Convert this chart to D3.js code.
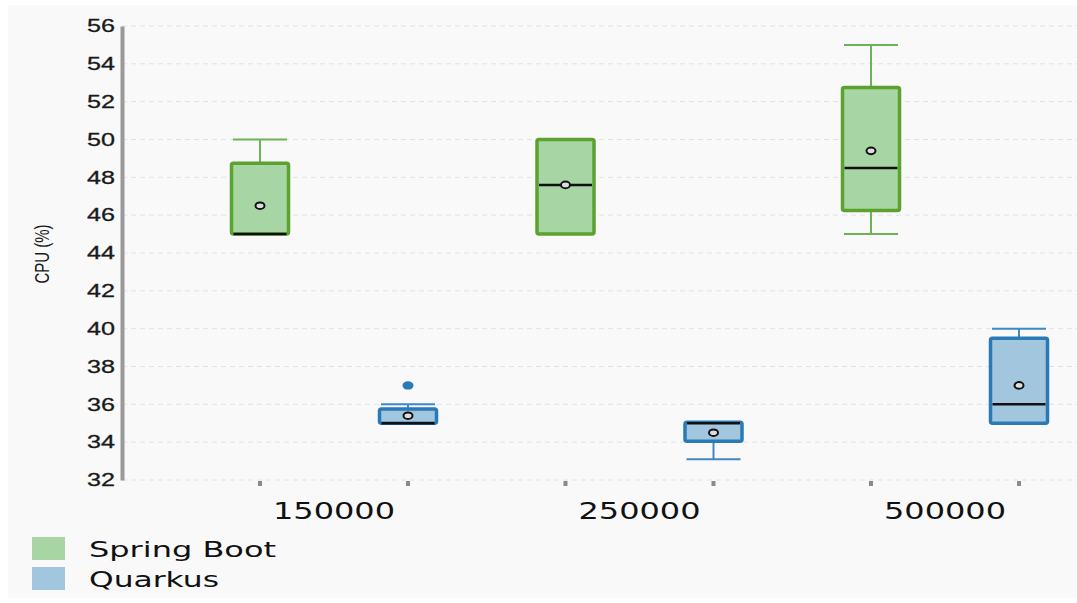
<!DOCTYPE html>
<html>
<head>
<meta charset="utf-8">
<script src="https://cdn.jsdelivr.net/npm/d3@7"></script>
<style>
  body { margin: 0; background: #fff; }
  svg { display: block; }
</style>
</head>
<body>
<script>
// categories and series
const groups = ["150000", "250000", "500000"];
const series = ["Spring Boot", "Quarkus"];
const yTicks = [32, 34, 36, 38, 40, 42, 44, 46, 48, 50, 52, 54, 56];

// box stats per group
const springMin    = [45, 45, 45];
const springQ1     = [45, 45, 46.25];
const springMedian = [45, 47.6, 48.5];
const springQ3     = [48.75, 50, 52.75];
const springMax    = [50, 50, 55];
const springMean   = [46.5, 47.6, 49.4];

const quarkusMin    = [35, 33.1, 35];
const quarkusQ1     = [35, 34.05, 35];
const quarkusMedian = [35, 35, 36];
const quarkusQ3     = [35.75, 35.05, 39.5];
const quarkusMax    = [36, 35, 40];
const quarkusMean   = [35.4, 34.5, 37];
const quarkusOutliers = [[37], [], []];

// colours
const fill = { "Spring Boot": "#a7d5a3", "Quarkus": "#a3c6df" };
const stroke = { "Spring Boot": "#5ba22e", "Quarkus": "#2b7ab8" };
const whiskerColor = { "Spring Boot": "#6cb356", "Quarkus": "#3f88c2" };

// build rows
let rows = [];
groups.forEach((g, i) => {
  rows.push({ group: g, s: "Spring Boot", min: springMin[i], q1: springQ1[i], med: springMedian[i],
              q3: springQ3[i], max: springMax[i], mean: springMean[i], out: [] });
  rows.push({ group: g, s: "Quarkus", min: quarkusMin[i], q1: quarkusQ1[i], med: quarkusMedian[i],
              q3: quarkusQ3[i], max: quarkusMax[i], mean: quarkusMean[i], out: quarkusOutliers[i] });
});

let width = 1077, height = 603;
let svg = d3.select("body").append("svg").attr("width", width).attr("height", height);

// light panel
svg.append("rect").attr("x", 8).attr("y", 5).attr("width", width - 8).attr("height", 593)
  .attr("fill", "#f9f9f9");

let axisX = 122;
let y = d3.scaleLinear().domain([32, 56]).range([480, 26]);
let x = d3.scalePoint().domain(groups).range([334, 945]);
let sub = d3.scalePoint().domain(series).range([-74, 74]);
let boxW = 57;

// grid lines
svg.append("g").selectAll("line").data(yTicks).join("line")
  .attr("x1", axisX).attr("x2", width)
  .attr("y1", d => y(d)).attr("y2", d => y(d))
  .attr("stroke", "#e2e2e2").attr("stroke-dasharray", "5,4");

// y axis
let yAxis = svg.append("g").attr("transform", "translate(" + axisX + ",0)")
  .call(d3.axisLeft(y).tickValues(yTicks).tickSize(0).tickPadding(7));
yAxis.select(".domain").attr("stroke", "#999").attr("stroke-width", 4);
yAxis.selectAll("text")
  .attr("font-family", "Liberation Sans, Arial, sans-serif")
  .attr("font-size", 18).attr("fill", "#1a1a1a")
  .attr("stroke", "#1a1a1a").attr("stroke-width", 0.3)
  .attr("textLength", 28).attr("lengthAdjust", "spacingAndGlyphs");

svg.append("text")
  .attr("transform", "translate(49,254) scale(1.4,1) rotate(-90)")
  .attr("text-anchor", "middle")
  .attr("font-family", "Liberation Sans, Arial, sans-serif")
  .attr("font-size", 15).attr("fill", "#1a1a1a")
  .text("CPU (%)");

let cx = d => x(d.group) + sub(d.s);

// x ticks
svg.append("g").selectAll("rect").data(rows).join("rect")
  .attr("x", d => cx(d) - 2).attr("y", 481).attr("width", 4).attr("height", 5)
  .attr("fill", "#8a8a8a");

// group labels
svg.append("g").selectAll("text").data(groups).join("text")
  .attr("x", d => x(d)).attr("y", 519)
  .attr("text-anchor", "middle")
  .attr("font-family", "DejaVu Sans, sans-serif")
  .attr("font-size", 23).attr("fill", "#111")
  .attr("textLength", 122).attr("lengthAdjust", "spacingAndGlyphs")
  .text(d => d);

let boxes = svg.append("g").selectAll("g").data(rows).join("g");

// whiskers
boxes.append("line")
  .attr("x1", cx).attr("x2", cx)
  .attr("y1", d => y(d.q3)).attr("y2", d => y(d.max))
  .attr("stroke", d => whiskerColor[d.s]).attr("stroke-width", 2);
boxes.append("line")
  .attr("x1", cx).attr("x2", cx)
  .attr("y1", d => y(d.q1)).attr("y2", d => y(d.min))
  .attr("stroke", d => whiskerColor[d.s]).attr("stroke-width", 2);
boxes.filter(d => d.max > d.q3).append("line")
  .attr("x1", d => cx(d) - 27).attr("x2", d => cx(d) + 27)
  .attr("y1", d => y(d.max)).attr("y2", d => y(d.max))
  .attr("stroke", d => whiskerColor[d.s]).attr("stroke-width", 2);
boxes.filter(d => d.min < d.q1).append("line")
  .attr("x1", d => cx(d) - 27).attr("x2", d => cx(d) + 27)
  .attr("y1", d => y(d.min)).attr("y2", d => y(d.min))
  .attr("stroke", d => whiskerColor[d.s]).attr("stroke-width", 2);

// box
boxes.append("rect")
  .attr("x", d => cx(d) - boxW / 2).attr("width", boxW)
  .attr("y", d => y(d.q3)).attr("height", d => y(d.q1) - y(d.q3))
  .attr("rx", 2)
  .attr("fill", d => fill[d.s]).attr("stroke", d => stroke[d.s]).attr("stroke-width", 3.5);

// median
boxes.append("line")
  .attr("x1", d => cx(d) - boxW / 2 + 2).attr("x2", d => cx(d) + boxW / 2 - 2)
  .attr("y1", d => y(d.med)).attr("y2", d => y(d.med))
  .attr("stroke", "#111").attr("stroke-width", 2.5);

// mean
boxes.append("ellipse")
  .attr("cx", cx).attr("cy", d => y(d.mean)).attr("rx", 4.5).attr("ry", 3.3)
  .attr("fill", "#ddd").attr("stroke", "#111").attr("stroke-width", 2);

// outliers
boxes.selectAll(".out").data(d => d.out.map(v => ({ v: v, d: d }))).join("ellipse")
  .attr("class", "out")
  .attr("cx", o => cx(o.d)).attr("cy", o => y(o.v)).attr("rx", 5.5).attr("ry", 4.2)
  .attr("fill", o => stroke[o.d.s]);

// legend
let legend = svg.append("g").selectAll("g").data(series).join("g")
  .attr("transform", (d, i) => "translate(32," + (537 + i * 30) + ")");
legend.append("rect").attr("width", 33).attr("height", 23).attr("fill", d => fill[d]);
legend.append("text")
  .attr("x", 57).attr("y", 20)
  .attr("font-family", "DejaVu Sans, sans-serif")
  .attr("font-size", 21).attr("fill", "#111")
  .attr("textLength", (d, i) => i === 0 ? 187 : 130).attr("lengthAdjust", "spacingAndGlyphs")
  .text(d => d);
</script>
</body>
</html>
